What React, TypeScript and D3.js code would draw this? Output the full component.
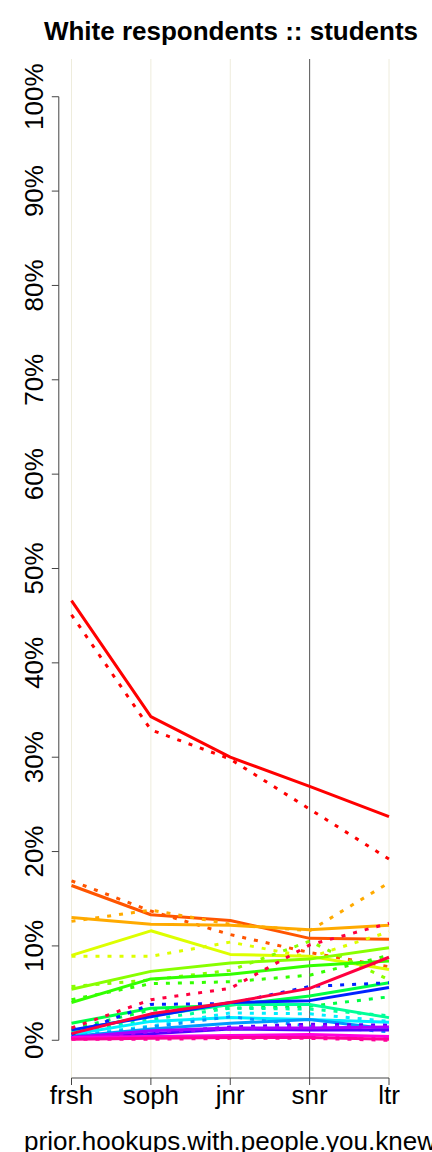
import React from "react";
import * as d3 from "d3";

const categories = ["frsh", "soph", "jnr", "snr", "ltr"];
const yTicks = [0, 10, 20, 30, 40, 50, 60, 70, 80, 90, 100];
const title = "White respondents :: students";
const xTitle = "prior.hookups.with.people.you.knew";

const seriesColors = [
  "#FF0000", "#FF5500", "#FFAA00", "#DDFF00", "#88FF00", "#33FF00",
  "#00FF44", "#00FF99", "#00EEFF", "#0099FF", "#0022FF", "#5500FF",
  "#AA00FF", "#FF00E0", "#FF0099", "#FF0040",
];

const solidValues = [
  [46.6, 34.3, 30.0, 26.9, 23.7],
  [16.4, 13.3, 12.7, 10.8, 10.7],
  [13.0, 12.3, 12.2, 11.7, 12.2],
  [9.0, 11.6, 9.1, 8.9, 7.5],
  [5.4, 7.3, 8.2, 8.6, 9.8],
  [4.0, 6.5, 7.0, 7.9, 8.4],
  [1.8, 3.4, 3.7, 4.7, 6.1],
  [1.0, 2.6, 3.8, 3.8, 2.4],
  [0.6, 2.0, 2.4, 2.2, 1.9],
  [0.4, 1.2, 1.8, 2.2, 1.2],
  [1.1, 2.5, 4.0, 4.2, 5.6],
  [0.3, 0.7, 1.2, 1.1, 1.1],
  [0.3, 1.0, 1.3, 1.3, 1.4],
  [0.3, 0.4, 0.5, 0.6, 0.4],
  [0.1, 0.2, 0.3, 0.3, 0.1],
  [0.7, 2.8, 4.0, 5.5, 8.8],
];

const dottedValues = [
  [45.1, 32.9, 29.8, 24.5, 19.2],
  [16.9, 13.7, 11.2, 9.3, 7.8],
  [12.6, 13.8, 12.3, 11.6, 16.7],
  [8.9, 8.9, 10.4, 8.8, 11.5],
  [5.7, 6.4, 7.4, 10.5, 6.4],
  [4.3, 6.0, 6.2, 6.9, 9.0],
  [1.2, 3.2, 3.4, 3.6, 4.6],
  [0.8, 2.2, 3.4, 3.3, 2.6],
  [0.5, 1.5, 2.9, 2.8, 2.0],
  [0.3, 1.4, 2.5, 1.5, 0.9],
  [0.6, 3.8, 3.9, 5.7, 6.1],
  [0.2, 0.8, 1.4, 1.7, 1.6],
  [0.2, 0.9, 1.2, 1.5, 1.4],
  [0.2, 0.3, 0.4, 0.5, 0.3],
  [0.1, 0.1, 0.2, 0.2, 0.0],
  [1.3, 4.3, 5.5, 10.1, 12.4],
];

const W = 432;
const H = 1152;
const plotLeft = 58.8;
const plotRight = 401.7;
const plotTop = 59;
const plotBottom = 1078;
const FONT = "'Liberation Sans', Arial, Helvetica, sans-serif";

export default function App() {
  const x = d3.scaleLinear().domain([0.84, 5.16]).range([plotLeft, plotRight]);
  const y = d3.scaleLinear().domain([-4, 104]).range([plotBottom, plotTop]);
  const line = d3
    .line<number>()
    .x((_, i) => x(i + 1))
    .y((d) => y(d));

  return (
    <svg
      width={W}
      height={H}
      style={{ position: "absolute", left: 0, top: 0, background: "#fff" }}
      fontFamily={FONT}
    >
      <rect x={0} y={0} width={W} height={H} fill="#fff" />
      {categories.map((c, i) => (
        <line
          key={"g" + c}
          x1={x(i + 1)}
          x2={x(i + 1)}
          y1={plotTop}
          y2={plotBottom}
          stroke={c === "snr" ? "#555" : "#EEECDC"}
          strokeWidth={1}
        />
      ))}
      {seriesColors.map((col, k) => (
        <g key={"s" + k}>
          <path
            d={line(solidValues[k]) || ""}
            fill="none"
            stroke={col}
            strokeWidth={3}
            strokeLinejoin="round"
          />
          <path
            d={line(dottedValues[k]) || ""}
            fill="none"
            stroke={col}
            strokeWidth={3}
            strokeDasharray="4 8"
          />
        </g>
      ))}
      <line x1={plotLeft} x2={plotLeft} y1={y(0)} y2={y(100)} stroke="#444" strokeWidth={1} />
      {yTicks.map((t) => (
        <g key={"yt" + t}>
          <line x1={plotLeft - 7} x2={plotLeft} y1={y(t)} y2={y(t)} stroke="#444" strokeWidth={1} />
          <text
            transform={`translate(43,${y(t)}) rotate(-90)`}
            textAnchor="middle"
            fontSize={26}
            fill="#000"
          >
            {t + "%"}
          </text>
        </g>
      ))}
      <line x1={x(1)} x2={x(5)} y1={plotBottom} y2={plotBottom} stroke="#444" strokeWidth={1} />
      {categories.map((c, i) => (
        <g key={"xt" + c}>
          <line x1={x(i + 1)} x2={x(i + 1)} y1={plotBottom} y2={plotBottom + 7} stroke="#444" strokeWidth={1} />
          <text x={x(i + 1)} y={1104} textAnchor="middle" fontSize={26} fill="#000">
            {c}
          </text>
        </g>
      ))}
      <text x={230} y={1150} textAnchor="middle" fontSize={26} fill="#000">
        {xTitle}
      </text>
      <text x={231} y={40} textAnchor="middle" fontSize={26} fontWeight="bold" fill="#000">
        {title}
      </text>
    </svg>
  );
}
